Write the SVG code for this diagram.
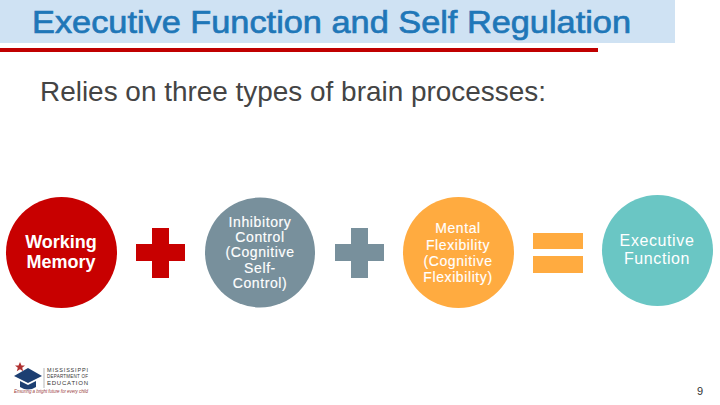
<svg xmlns="http://www.w3.org/2000/svg" width="720" height="405" viewBox="0 0 720 405">
<style>
text{font-family:"Liberation Sans",Arial,sans-serif}
.n{fill:#fff;stroke:#fff;stroke-width:.15px;text-anchor:middle;font-size:14px;letter-spacing:.6px}
.b{font-weight:bold;font-size:18px;letter-spacing:0;stroke-width:0}
.e{font-size:16px;stroke-width:0}
.l{font-size:4.6px;fill:#333}
</style>
<rect width="720" height="405" fill="#fff"/>
<rect id="title-band" width="675" height="43" fill="#cfe2f3"/>
<text x="32" y="33" font-size="31" fill="#1f77b8" stroke="#1f77b8" stroke-width=".7" textLength="599" lengthAdjust="spacingAndGlyphs">Executive Function and Self Regulation</text>
<rect id="title-rule" y="48" width="598" height="4" fill="#c00000"/>
<text x="40" y="101" font-size="27.500" fill="#444" textLength="506" lengthAdjust="spacingAndGlyphs">Relies on three types of brain processes:</text>
<g id="working-memory"><circle cx="61.5" cy="252.5" r="55.5" fill="#c80000"/>
<text class="n b" x="61" y="248">Working</text><text class="n b" x="61" y="268">Memory</text></g>
<g id="plus-red"><path d="M152 228h17v16h16v17h-16v17h-17v-17h-16v-17h16z" fill="#c80000"/></g>
<g id="inhibitory-control"><circle cx="260" cy="252.5" r="55" fill="#78909c"/>
<text class="n" x="260" y="227">Inhibitory</text><text class="n" x="260" y="242">Control</text><text class="n" x="260" y="257">(Cognitive</text><text class="n" x="260" y="273">Self-</text><text class="n" x="260" y="288">Control)</text></g>
<g id="plus-gray"><path d="M351 228h17v16h16v17h-16v17h-17v-17h-16v-17h16z" fill="#78909c"/></g>
<g id="mental-flexibility"><circle cx="458.5" cy="252.5" r="55.5" fill="#ffab40"/>
<text class="n" x="458" y="233">Mental</text><text class="n" x="458" y="250">Flexibility</text><text class="n" x="458" y="266">(Cognitive</text><text class="n" x="458" y="282">Flexibility)</text></g>
<g id="equals"><rect x="533" y="233" width="50" height="16" fill="#ffab40"/><rect x="533" y="256" width="50" height="17" fill="#ffab40"/></g>
<g id="executive-function"><circle cx="657.5" cy="250.5" r="55.5" fill="#6ac6c4"/>
<text class="n e" x="657" y="246">Executive</text><text class="n e" x="657" y="264">Function</text></g>
<g id="logo">
<path d="M20 362l1.500 3.500h3.500l-2.800 2.200 1 3.500-3.200-2-3.200 2 1-3.500-2.800-2.200h3.500z" fill="#b03030"/>
<path d="M14 376l14-8 14 8-14 7z" fill="#1d3f72"/><path d="M20 381v6q8 5 16 0v-6l-8 4z" fill="#1d3f72"/>
<path d="M44 368v20" stroke="#999" stroke-width=".7"/>
<text class="l" x="47" y="372" style="font-size:5.500px" textLength="41">MISSISSIPPI</text>
<text class="l" x="47" y="378" style="font-size:4.500px" textLength="41">DEPARTMENT OF</text>
<text class="l" x="47" y="385" style="font-size:6px" textLength="41">EDUCATION</text>
<text class="l" x="14" y="393" style="font-size:4.500px;fill:#9a4040;font-style:italic" textLength="74">Ensuring a bright future for every child</text>
</g>
<text x="700" y="395" font-size="11" fill="#333" text-anchor="middle">9</text>
</svg>
